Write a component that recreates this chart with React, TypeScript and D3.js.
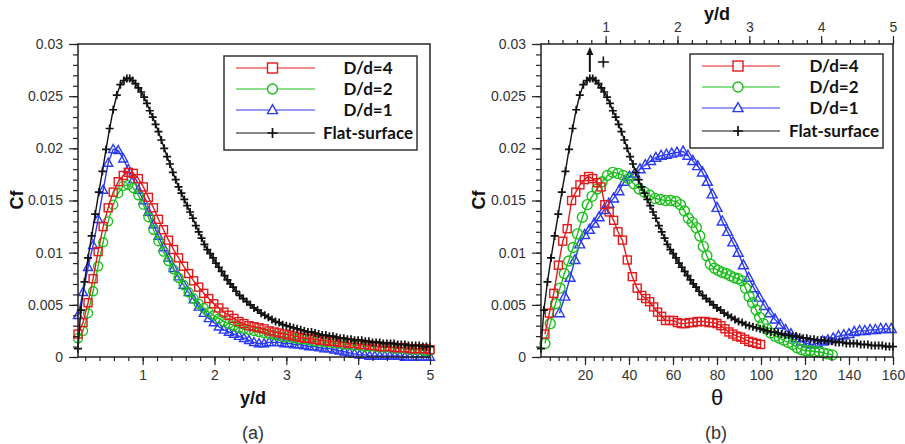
import React, { useEffect, useRef } from "react";
import * as d3 from "d3";

// tick values
const cfTicks = [0, 0.005, 0.01, 0.015, 0.02, 0.025, 0.03];
const ydTicks = [1, 2, 3, 4, 5];
const thetaTicks = [20, 40, 60, 80, 100, 120, 140, 160];
const legendLabels = ["D/d=4", "D/d=2", "D/d=1", "Flat-surface"];

// flat surface, Cf vs y/d (same curve in both panels, right one uses the top y/d axis)
const flatSurface: [number, number][] = [
  [0.10,0.0008],[0.14,0.0045],[0.19,0.0072],[0.24,0.0095],[0.29,0.0116],[0.34,0.0137],[0.39,0.0158],
  [0.44,0.0178],[0.49,0.0199],[0.54,0.0219],[0.59,0.0237],[0.64,0.0251],[0.69,0.0261],[0.74,0.0265],
  [0.78,0.0267],[0.82,0.0267],[0.86,0.0265],[0.90,0.0262],[0.94,0.0258],[0.98,0.0254],[1.02,0.0249],
  [1.06,0.0243],[1.10,0.0236],[1.14,0.0230],[1.18,0.0223],[1.22,0.0216],[1.26,0.0208],[1.30,0.0200],
  [1.34,0.0192],[1.38,0.0185],[1.42,0.0177],[1.46,0.0170],[1.50,0.0163],[1.54,0.0157],[1.58,0.0151],
  [1.62,0.0145],[1.66,0.0139],[1.70,0.0133],[1.74,0.0126],[1.78,0.0120],[1.82,0.0114],[1.86,0.0108],
  [1.90,0.0103],[1.94,0.0099],[1.98,0.0095],[2.02,0.0090],[2.06,0.0086],[2.10,0.0082],[2.14,0.0078],
  [2.18,0.0074],[2.22,0.0070],[2.26,0.0067],[2.30,0.0063],[2.35,0.0059],[2.40,0.0056],[2.45,0.0053],
  [2.50,0.0050],[2.55,0.0047],[2.60,0.0045],[2.65,0.0042],[2.70,0.0040],[2.75,0.0038],[2.80,0.0036],
  [2.85,0.0034],[2.90,0.0033],[2.95,0.0031],[3.00,0.0030],[3.05,0.0029],[3.10,0.0028],[3.15,0.0027],
  [3.20,0.0026],[3.25,0.0025],[3.30,0.0024],[3.35,0.0024],[3.40,0.0023],[3.45,0.0022],[3.50,0.0021],
  [3.55,0.0021],[3.60,0.0020],[3.65,0.0020],[3.70,0.0019],[3.75,0.0018],[3.80,0.0018],[3.85,0.0017],
  [3.90,0.0017],[3.95,0.0016],[4.00,0.0016],[4.05,0.0016],[4.10,0.0015],[4.15,0.0015],[4.20,0.0014],
  [4.25,0.0014],[4.30,0.0014],[4.35,0.0013],[4.40,0.0013],[4.45,0.0013],[4.50,0.0013],[4.55,0.0012],
  [4.60,0.0012],[4.65,0.0012],[4.70,0.0011],[4.75,0.0011],[4.80,0.0011],[4.85,0.0011],[4.90,0.0010],
  [4.95,0.0010],[5.00,0.0010],
];

// (a) Cf vs y/d
const d4Left: [number, number][] = [
  [0.10,0.0022],[0.17,0.0033],[0.24,0.0052],[0.31,0.0075],[0.38,0.0101],[0.45,0.0125],[0.52,0.0143],
  [0.59,0.0158],[0.66,0.0168],[0.73,0.0174],[0.80,0.0177],[0.87,0.0176],[0.94,0.0171],[1.01,0.0163],
  [1.08,0.0153],[1.15,0.0143],[1.22,0.0132],[1.29,0.0122],[1.36,0.0112],[1.43,0.0103],[1.50,0.0095],
  [1.57,0.0087],[1.64,0.0080],[1.71,0.0073],[1.78,0.0067],[1.85,0.0061],[1.92,0.0056],[1.99,0.0051],
  [2.06,0.0047],[2.13,0.0043],[2.20,0.0040],[2.27,0.0037],[2.34,0.0034],[2.41,0.0032],[2.48,0.0030],
  [2.55,0.0029],[2.62,0.0028],[2.69,0.0027],[2.76,0.0025],[2.83,0.0024],[2.90,0.0023],[2.97,0.0022],
  [3.04,0.0021],[3.11,0.0020],[3.18,0.0019],[3.25,0.0018],[3.32,0.0018],[3.39,0.0017],[3.46,0.0016],
  [3.53,0.0016],[3.60,0.0015],[3.67,0.0015],[3.74,0.0014],[3.81,0.0014],[3.88,0.0013],[3.95,0.0013],
  [4.02,0.0012],[4.09,0.0012],[4.16,0.0011],[4.23,0.0011],[4.30,0.0010],[4.37,0.0010],[4.44,0.0010],
  [4.51,0.0009],[4.58,0.0009],[4.65,0.0009],[4.72,0.0008],[4.79,0.0008],[4.86,0.0008],[4.93,0.0008],
  [5.00,0.0007],
];
const d2Left: [number, number][] = [
  [0.10,0.0018],[0.17,0.0025],[0.24,0.0042],[0.31,0.0063],[0.38,0.0087],[0.45,0.0110],[0.52,0.0130],
  [0.59,0.0146],[0.66,0.0157],[0.73,0.0164],[0.80,0.0165],[0.87,0.0162],[0.94,0.0155],[1.01,0.0146],
  [1.08,0.0134],[1.15,0.0122],[1.22,0.0111],[1.29,0.0101],[1.36,0.0092],[1.43,0.0084],[1.50,0.0076],
  [1.57,0.0069],[1.64,0.0062],[1.71,0.0056],[1.78,0.0051],[1.85,0.0047],[1.92,0.0043],[1.99,0.0040],
  [2.06,0.0037],[2.13,0.0034],[2.20,0.0032],[2.27,0.0030],[2.34,0.0028],[2.41,0.0027],[2.48,0.0026],
  [2.55,0.0025],[2.62,0.0024],[2.69,0.0023],[2.76,0.0022],[2.83,0.0021],[2.90,0.0020],[2.97,0.0019],
  [3.04,0.0019],[3.11,0.0018],[3.18,0.0017],[3.25,0.0017],[3.32,0.0016],[3.39,0.0015],[3.46,0.0015],
  [3.53,0.0014],[3.60,0.0014],[3.67,0.0013],[3.74,0.0013],[3.81,0.0012],[3.88,0.0012],[3.95,0.0011],
  [4.02,0.0011],[4.09,0.0010],[4.16,0.0010],[4.23,0.0010],[4.30,0.0009],[4.37,0.0009],[4.44,0.0009],
  [4.51,0.0008],[4.58,0.0008],[4.65,0.0008],[4.72,0.0007],[4.79,0.0007],[4.86,0.0007],[4.93,0.0006],
  [5.00,0.0006],
];
const d1Left: [number, number][] = [
  [0.10,0.0040],[0.17,0.0062],[0.24,0.0086],[0.31,0.0107],[0.38,0.0132],[0.45,0.0160],[0.52,0.0186],
  [0.59,0.0199],[0.66,0.0198],[0.73,0.0190],[0.80,0.0180],[0.87,0.0170],[0.94,0.0160],[1.01,0.0150],
  [1.08,0.0139],[1.15,0.0127],[1.22,0.0116],[1.29,0.0105],[1.36,0.0095],[1.43,0.0085],[1.50,0.0077],
  [1.57,0.0069],[1.64,0.0062],[1.71,0.0055],[1.78,0.0048],[1.85,0.0042],[1.92,0.0037],[1.99,0.0033],
  [2.06,0.0029],[2.13,0.0026],[2.20,0.0024],[2.27,0.0022],[2.34,0.0020],[2.41,0.0018],[2.48,0.0016],
  [2.55,0.0014],[2.62,0.0013],[2.69,0.0013],[2.76,0.0014],[2.83,0.0014],[2.90,0.0014],[2.97,0.0013],
  [3.04,0.0013],[3.11,0.0012],[3.18,0.0012],[3.25,0.0011],[3.32,0.0010],[3.39,0.0010],[3.46,0.0009],
  [3.53,0.0008],[3.60,0.0008],[3.67,0.0007],[3.74,0.0006],[3.81,0.0005],[3.88,0.0004],[3.95,0.0003],
  [4.02,0.0002],[4.09,0.0002],[4.16,0.0001],[4.23,0.0001],[4.30,0.0001],[4.37,0.0001],[4.44,0.0001],
  [4.51,0.0001],[4.58,0.0001],[4.65,0.0000],[4.72,0.0000],[4.79,0.0000],[4.86,0.0000],[4.93,0.0000],
  [5.00,0.0000],
];

// (b) Cf vs theta
const d4Right: [number, number][] = [
  [1.8,0.0022],[3.8,0.0042],[5.8,0.0061],[7.9,0.0088],[9.9,0.0111],[11.9,0.0123],[13.9,0.0150],
  [15.8,0.0158],[17.7,0.0165],[19.7,0.0170],[21.6,0.0173],[23.5,0.0171],[25.5,0.0167],[27.3,0.0163],
  [29.0,0.0146],[31.0,0.0139],[33.0,0.0131],[35.0,0.0120],[37.0,0.0112],[39.2,0.0093],[41.5,0.0077],
  [43.7,0.0066],[45.8,0.0059],[47.6,0.0056],[49.4,0.0053],[51.2,0.0048],[53.0,0.0043],[54.8,0.0039],
  [56.6,0.0035],[58.4,0.0035],[60.2,0.0035],[62.0,0.0033],[63.8,0.0032],[65.6,0.0032],[67.4,0.0033],
  [69.2,0.0033],[71.0,0.0034],[72.8,0.0034],[74.6,0.0034],[76.4,0.0033],[78.2,0.0033],[80.0,0.0032],
  [81.8,0.0030],[83.6,0.0027],[85.4,0.0024],[87.2,0.0022],[89.0,0.0020],[90.8,0.0019],[92.6,0.0017],
  [94.4,0.0015],[96.2,0.0014],[98.0,0.0013],[99.8,0.0012],
];
const d2Right: [number, number][] = [
  [1.8,0.0013],[4.2,0.0032],[6.6,0.0051],[8.6,0.0066],[10.6,0.0080],[12.6,0.0092],[14.6,0.0105],
  [16.6,0.0118],[18.8,0.0134],[21.0,0.0146],[23.2,0.0154],[25.5,0.0161],[27.8,0.0168],[30.2,0.0174],
  [32.6,0.0177],[35.0,0.0176],[37.4,0.0174],[39.8,0.0171],[42.2,0.0166],[44.6,0.0161],[47.0,0.0158],
  [49.4,0.0155],[51.8,0.0152],[54.2,0.0151],[56.6,0.0150],[59.0,0.0150],[61.4,0.0149],[63.4,0.0146],
  [65.2,0.0140],[67.0,0.0133],[68.8,0.0129],[70.6,0.0124],[72.2,0.0116],[73.8,0.0106],[75.4,0.0097],
  [77.0,0.0089],[78.8,0.0085],[80.6,0.0083],[82.4,0.0081],[84.2,0.0080],[86.0,0.0078],[87.8,0.0076],
  [89.6,0.0075],[91.4,0.0073],[93.0,0.0066],[94.6,0.0058],[96.2,0.0052],[97.8,0.0045],[99.4,0.0038],
  [101.0,0.0032],[102.6,0.0027],[104.4,0.0023],[106.4,0.0020],[108.4,0.0018],[110.4,0.0016],
  [112.4,0.0014],[114.4,0.0012],[116.4,0.0009],[118.4,0.0007],[120.4,0.0006],[122.4,0.0006],
  [124.4,0.0005],[126.4,0.0005],[128.4,0.0004],[130.4,0.0003],[132.4,0.0002],
];
const d1Right: [number, number][] = [
  [8.4,0.0042],[10.8,0.0058],[13.2,0.0076],[15.4,0.0093],[17.6,0.0108],[19.8,0.0117],[22.0,0.0122],
  [24.2,0.0128],[26.4,0.0134],[28.6,0.0141],[30.8,0.0147],[33.0,0.0152],[35.4,0.0159],[37.8,0.0168],
  [40.2,0.0173],[42.6,0.0176],[45.0,0.0180],[47.4,0.0184],[49.8,0.0188],[52.2,0.0191],[54.6,0.0193],
  [57.0,0.0194],[59.4,0.0195],[61.8,0.0196],[64.6,0.0197],[66.8,0.0193],[69.0,0.0188],[71.2,0.0183],
  [73.4,0.0177],[75.6,0.0168],[77.8,0.0156],[80.0,0.0143],[82.4,0.0130],[84.8,0.0120],[87.2,0.0110],
  [89.6,0.0100],[92.0,0.0088],[94.4,0.0076],[96.8,0.0066],[99.2,0.0057],[101.6,0.0049],[104.0,0.0042],
  [106.4,0.0036],[108.8,0.0031],[111.2,0.0026],[113.6,0.0022],[116.0,0.0018],[118.4,0.0015],
  [120.8,0.0013],[123.2,0.0012],[125.6,0.0013],[128.0,0.0015],[130.4,0.0016],[132.8,0.0018],
  [135.2,0.0020],[137.6,0.0021],[140.0,0.0022],[142.4,0.0024],[144.8,0.0025],[147.2,0.0025],
  [149.6,0.0026],[152.0,0.0026],[154.4,0.0027],[156.8,0.0027],[159.2,0.0027],
];

const RED = "#e31a1c";
const GREEN = "#1cbf1c";
const BLUE = "#2a3af0";
const BLACK = "#111";
const FONT = "'Liberation Sans', Arial, sans-serif";
const LEGEND_FONT = "Lato, 'Open Sans', sans-serif";

// panel boxes
const top = 44;
const bottom = 357;
const leftPanel = { x0: 78, x1: 430 };
const rightPanel = { x0: 541, x1: 893 };

const y = d3.scaleLinear().domain([0, 0.03]).range([bottom, top]);
const xLeft = d3.scaleLinear().domain([0.1, 5]).range([leftPanel.x0, leftPanel.x1]);
const xTheta = d3.scaleLinear().domain([0, 160]).range([rightPanel.x0, rightPanel.x1]);
const xTop = d3.scaleLinear().domain([0.1, 5]).range([rightPanel.x0, rightPanel.x1]);

type Kind = "square" | "circle" | "triangle" | "plus";

const Marker = ({ kind, x, y, color, size, fill = "none" }: any) => {
  const sw = 1.4;
  if (kind === "square")
    return <rect x={x - size / 2} y={y - size / 2} width={size} height={size} fill={fill} stroke={color} strokeWidth={sw} />;
  if (kind === "circle")
    return <circle cx={x} cy={y} r={size / 2} fill={fill} stroke={color} strokeWidth={sw} />;
  if (kind === "triangle") {
    const h = size * 0.9;
    return (
      <path
        d={`M${x},${y - h * 0.6}L${x + size / 2},${y + h * 0.4}L${x - size / 2},${y + h * 0.4}Z`}
        fill={fill}
        stroke={color}
        strokeWidth={sw}
      />
    );
  }
  return (
    <path
      d={`M${x - size / 2},${y}H${x + size / 2}M${x},${y - size / 2}V${y + size / 2}`}
      stroke={color}
      strokeWidth={1.7}
    />
  );
};

const Series = ({ data, xs, color, kind, size }: any) => {
  const path = d3
    .line<[number, number]>()
    .x((d) => xs(d[0]))
    .y((d) => y(d[1]))(data);
  return (
    <g>
      <path d={path || ""} fill="none" stroke={color} strokeWidth={1.4} />
      {data.map((d: [number, number], i: number) => (
        <Marker key={i} kind={kind} x={xs(d[0])} y={y(d[1])} color={color} size={size} />
      ))}
    </g>
  );
};

const Legend = ({ x0, y0, lineX0, lineX1, textX }: any) => {
  const kinds: Kind[] = ["square", "circle", "triangle", "plus"];
  const colors = [RED, GREEN, BLUE, BLACK];
  const rowY = [12, 33, 54, 77];
  return (
    <g>
      <rect x={x0} y={y0} width={193} height={94} fill="#fff" stroke="#333" strokeWidth={1.5} />
      {legendLabels.map((label, i) => (
        <g key={label}>
          <line x1={lineX0} x2={lineX1} y1={y0 + rowY[i]} y2={y0 + rowY[i]} stroke={colors[i]} strokeWidth={1.2} />
          <Marker
            kind={kinds[i]}
            x={(lineX0 + lineX1) / 2 - 3}
            y={y0 + rowY[i]}
            color={colors[i]}
            size={10}
            fill="#fff"
          />
          <text
            x={textX}
            y={y0 + rowY[i] + 6}
            textAnchor="middle"
            fontFamily={LEGEND_FONT}
            fontWeight="bold"
            fontSize={17}
            fill="#111"
          >
            {label}
          </text>
        </g>
      ))}
    </g>
  );
};

export default function App() {
  const svgRef = useRef<SVGSVGElement>(null);

  useEffect(() => {
    const svg = d3.select(svgRef.current);
    svg.selectAll(".axis").remove();
    const addAxis = (axis: any, tx: number, ty: number) => {
      const g = svg
        .append("g")
        .attr("class", "axis")
        .attr("transform", `translate(${tx},${ty})`)
        .call(axis);
      g.select(".domain").remove();
      g.selectAll("line").attr("stroke", "#222").attr("stroke-width", 1.2);
      g.selectAll("text")
        .attr("font-family", FONT)
        .attr("font-size", 14)
        .attr("fill", "#333");
    };
    const fmt = (d: any) => String(d);
    const none = () => "";

    // left panel
    addAxis(d3.axisLeft(y).tickValues(cfTicks).tickSize(9).tickPadding(6).tickFormat(fmt), leftPanel.x0, 0);
    addAxis(d3.axisLeft(y).tickValues(d3.range(0, 0.0305, 0.001)).tickSize(5).tickFormat(none), leftPanel.x0, 0);
    addAxis(d3.axisBottom(xLeft).tickValues(ydTicks).tickSize(8).tickPadding(5).tickFormat(fmt), 0, bottom);
    addAxis(d3.axisBottom(xLeft).tickValues(d3.range(0.2, 5.01, 0.2)).tickSize(4).tickFormat(none), 0, bottom);

    // right panel
    addAxis(d3.axisLeft(y).tickValues(cfTicks).tickSize(9).tickPadding(6).tickFormat(fmt), rightPanel.x0, 0);
    addAxis(d3.axisLeft(y).tickValues(d3.range(0, 0.0305, 0.001)).tickSize(5).tickFormat(none), rightPanel.x0, 0);
    addAxis(d3.axisBottom(xTheta).tickValues(thetaTicks).tickSize(8).tickPadding(5).tickFormat(fmt), 0, bottom);
    addAxis(d3.axisBottom(xTheta).tickValues(d3.range(4, 160.1, 4)).tickSize(4).tickFormat(none), 0, bottom);
    addAxis(d3.axisTop(xTop).tickValues(ydTicks).tickSize(8).tickPadding(4).tickFormat(fmt), 0, top);
    addAxis(d3.axisTop(xTop).tickValues(d3.range(0.2, 5.01, 0.2)).tickSize(4).tickFormat(none), 0, top);
  }, []);

  const arrowX = xTop(0.78);

  return (
    <div style={{ position: "absolute", left: 0, top: 0 }}>
      <svg ref={svgRef} width={905} height={444} style={{ display: "block", background: "#fff" }}>
        {/* (a) */}
        <Series data={d1Left} xs={xLeft} color={BLUE} kind="triangle" size={9} />
        <Series data={d2Left} xs={xLeft} color={GREEN} kind="circle" size={9} />
        <Series data={d4Left} xs={xLeft} color={RED} kind="square" size={8} />
        <Series data={flatSurface} xs={xLeft} color={BLACK} kind="plus" size={8} />
        <rect x={leftPanel.x0} y={top} width={leftPanel.x1 - leftPanel.x0} height={bottom - top} fill="none" stroke="#222" strokeWidth={1.5} />
        <Legend x0={224} y0={56} lineX0={236} lineX1={315} textX={368} />

        {/* (b) */}
        <Series data={d1Right} xs={xTheta} color={BLUE} kind="triangle" size={10} />
        <Series data={d2Right} xs={xTheta} color={GREEN} kind="circle" size={10} />
        <Series data={d4Right} xs={xTheta} color={RED} kind="square" size={8} />
        <Series data={flatSurface} xs={xTop} color={BLACK} kind="plus" size={8} />
        <rect x={rightPanel.x0} y={top} width={rightPanel.x1 - rightPanel.x0} height={bottom - top} fill="none" stroke="#222" strokeWidth={1.5} />
        <Legend x0={690} y0={54} lineX0={702} lineX1={780} textX={834} />

        {/* peak marker arrow */}
        <line x1={arrowX} x2={arrowX} y1={72} y2={54} stroke="#111" strokeWidth={2} />
        <path d={`M${arrowX - 3.5},${55}L${arrowX},${47}L${arrowX + 3.5},${55}Z`} fill="#111" />
        <path d={`M${arrowX + 8},62H${arrowX + 19}M${arrowX + 13.5},56.5V67.5`} stroke="#111" strokeWidth={1.6} />

        {/* axis titles */}
        <text transform="translate(23,200) rotate(-90)" textAnchor="middle" fontFamily={FONT} fontWeight="bold" fontSize={18} fill="#111">Cf</text>
        <text transform="translate(485,200) rotate(-90)" textAnchor="middle" fontFamily={FONT} fontWeight="bold" fontSize={18} fill="#111">Cf</text>
        <text x={253} y={404} textAnchor="middle" fontFamily={FONT} fontWeight="bold" fontSize={18} fill="#111">y/d</text>
        <text x={717} y={20} textAnchor="middle" fontFamily={FONT} fontWeight="bold" fontSize={18} fill="#111">y/d</text>
        <text x={717} y={405} textAnchor="middle" fontFamily={FONT} fontSize={22} fill="#111">θ</text>
        <text x={253} y={439} textAnchor="middle" fontFamily={FONT} fontSize={18} fill="#333">(a)</text>
        <text x={716} y={439} textAnchor="middle" fontFamily={FONT} fontSize={18} fill="#333">(b)</text>
      </svg>
    </div>
  );
}
